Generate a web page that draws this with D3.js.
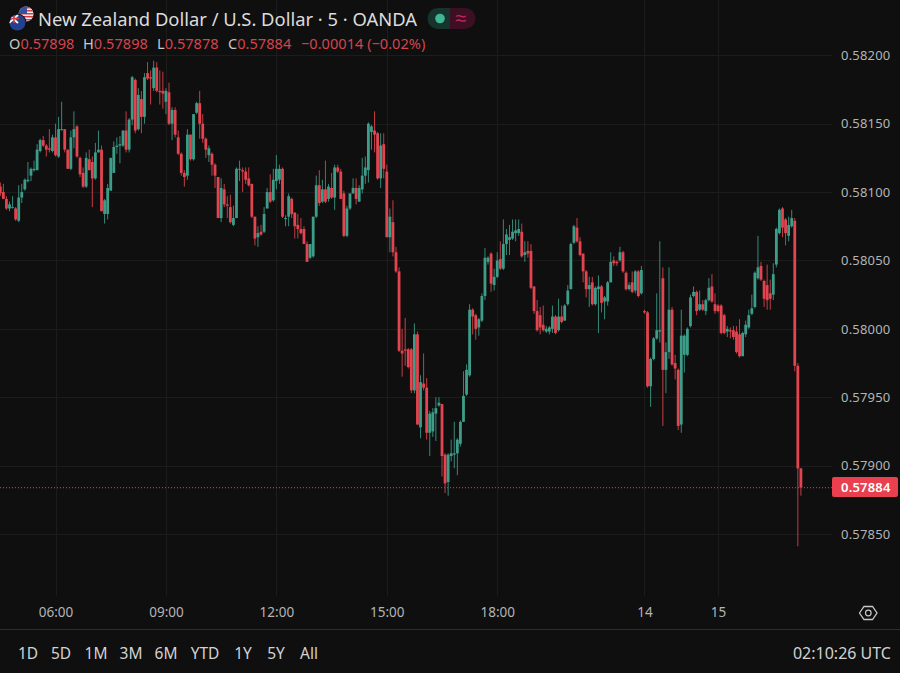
<!DOCTYPE html>
<html>
<head>
<meta charset="utf-8">
<script src="https://cdn.jsdelivr.net/npm/d3@7"></script>
<style>
html, body { margin: 0; padding: 0; background: #0f0f0f; }
svg { display: block; }
text { font-family: "Noto Sans", sans-serif; }
</style>
</head>
<body>
<script>
const width = 900
const height = 673

//NZD/USD 5 minute bars, in units of 0.00001
const opens = [
58104,58100,58095,58088,58089,58088,58079,58096,58102,58108,58112,58116,58116,58130,58138,58134,58132,58130,58140,58126,
58146,58146,58131,58117,58140,58148,58125,58114,58104,58124,58122,58110,58129,58131,58084,58084,58101,58114,58133,58134,
58134,58145,58131,58153,58182,58146,58168,58155,58187,58184,58176,58191,58174,58174,58166,58173,58150,58160,58140,58128,
58114,58112,58142,58124,58158,58165,58150,58139,58127,58128,58120,58111,58081,58102,58091,58089,58076,58081,58117,58116,
58115,58110,58106,58082,58067,58071,58071,58088,58100,58094,58108,58109,58117,58081,58082,58095,58085,58076,58073,58073,
58062,58052,58053,58082,58105,58093,58102,58095,58103,58096,58118,58115,58099,58068,58088,58099,58103,58093,58102,58112,
58116,58144,58145,58143,58110,58135,58115,58067,58078,58056,58042,57984,57985,57985,57985,57955,57996,57928,57960,57957,
57924,57925,57938,57944,57945,57908,57888,57907,57908,57909,57916,57932,57952,57966,58014,58010,58001,58006,58024,58049,
58055,58032,58038,58051,58044,58062,58065,58066,58070,58070,58071,58054,58057,58057,58031,58013,58010,58003,57998,57998,
58000,58009,57999,58009,58006,58018,58029,58063,58074,58064,58055,58042,58029,58034,58018,58029,58031,58020,58020,58034,
58050,58049,58050,58056,58041,58029,58034,58028,58042,58026,58013,58012,57958,57978,57993,57998,58037,57970,57983,58014,
57975,57970,57930,57981,57981,58002,58024,58027,58014,58018,58013,58021,58031,58018,58017,58017,58010,57998,57999,57999,
57998,57996,57980,57996,58001,58011,58016,58037,58046,58035,58032,58026,58025,58047,58070,58088,58080,58068,58075,58079,
57973,57898]
const highs = [
58107,58106,58097,58093,58097,58089,58105,58106,58110,58122,58118,58123,58135,58139,58141,58135,58146,58142,58150,58155,
58166,58146,58131,58145,58159,58149,58126,58118,58129,58131,58126,58136,58145,58134,58095,58106,58125,58137,58140,58141,
58145,58159,58154,58185,58183,58176,58174,58187,58195,58189,58196,58195,58189,58188,58176,58180,58162,58162,58145,58129,
58116,58146,58142,58157,58166,58174,58157,58140,58134,58129,58121,58111,58110,58106,58097,58098,58090,58118,58123,58118,
58118,58118,58106,58082,58075,58076,58089,58103,58113,58117,58127,58120,58118,58083,58099,58096,58085,58084,58081,58075,
58064,58062,58082,58112,58116,58109,58123,58106,58114,58120,58120,58117,58101,58090,58099,58110,58110,58105,58125,58126,
58151,58149,58159,58144,58143,58143,58120,58088,58094,58060,58045,58000,58008,57986,57986,58004,57998,57966,57982,57964,
57940,57942,57950,57950,57945,57909,57909,57919,57932,57920,57933,57969,57974,58018,58015,58011,58008,58026,58059,58053,
58056,58044,58056,58064,58080,58073,58076,58080,58080,58080,58077,58064,58064,58062,58031,58021,58016,58017,58002,58002,
58017,58010,58022,58017,58018,58032,58063,58076,58081,58067,58055,58043,58038,58038,58031,58039,58032,58024,58035,58056,
58053,58050,58060,58057,58042,58034,58042,58043,58043,58046,58014,58013,57979,57994,58026,58064,58045,57990,58045,58016,
57981,57971,58014,57996,58001,58025,58031,58028,58028,58021,58022,58037,58040,58026,58018,58018,58011,58002,58001,58002,
58002,58007,57998,58006,58014,58025,58042,58068,58049,58036,58047,58036,58048,58074,58088,58089,58081,58082,58087,58081,
57975,57898]
const lows = [
58097,58095,58087,58086,58088,58079,58078,58092,58101,58107,58108,58115,58116,58129,58133,58126,58129,58129,58126,58125,
58145,58129,58117,58116,58132,58125,58111,58103,58103,58116,58089,58109,58129,58086,58077,58080,58101,58114,58128,58121,
58133,58129,58129,58149,58143,58145,58143,58150,58182,58164,58174,58173,58164,58161,58157,58149,58138,58140,58127,58112,
58104,58109,58123,58123,58157,58139,58136,58125,58122,58112,58103,58081,58078,58089,58081,58077,58075,58081,58108,58100,
58106,58104,58081,58061,58060,58068,58070,58088,58092,58093,58102,58106,58081,58075,58075,58081,58066,58066,58069,58062,
58049,58051,58052,58081,58090,58092,58092,58093,58095,58087,58114,58095,58067,58067,58087,58099,58091,58093,58099,58106,
58107,58131,58129,58109,58103,58110,58067,58056,58053,58041,57983,57965,57973,57971,57953,57953,57930,57920,57955,57919,
57907,57921,57918,57943,57892,57880,57878,57903,57898,57893,57914,57932,57951,57965,57996,57992,57995,58005,58021,58047,
58027,58028,58037,58043,58043,58054,58054,58065,58064,58068,58052,58049,58052,58029,58011,57998,57996,57998,57997,57996,
57997,57996,57998,58004,58006,58017,58029,58062,58063,58053,58034,58023,58016,58017,58017,57997,58012,58007,58017,58034,
58046,58046,58049,58041,58028,58028,58026,58026,58023,58025,58011,57957,57943,57977,57992,57990,57929,57953,57978,57973,
57963,57926,57924,57968,57980,58001,58023,58010,58013,58013,58010,58020,58019,58011,58012,57996,57996,57994,57993,57992,
57982,57979,57980,57994,58000,58010,58015,58036,58035,58016,58014,58014,58021,58045,58069,58067,58061,58064,58074,57969,
57841,57878]
const closes = [
58099,58095,58088,58091,58089,58080,58096,58100,58109,58109,58117,58117,58131,58138,58134,58131,58131,58140,58127,58146,
58146,58131,58117,58140,58146,58126,58113,58104,58125,58116,58110,58129,58131,58086,58094,58103,58125,58133,58134,58135,
58145,58131,58153,58184,58145,58171,58155,58184,58183,58183,58191,58174,58173,58172,58174,58150,58160,58142,58128,58114,
58111,58142,58124,58157,58165,58150,58139,58131,58132,58120,58112,58081,58103,58091,58090,58078,58081,58117,58117,58115,
58109,58105,58082,58066,58070,58069,58084,58100,58093,58109,58117,58117,58082,58081,58097,58084,58075,58073,58070,58062,
58049,58062,58082,58105,58092,58102,58093,58104,58096,58118,58115,58095,58068,58088,58099,58103,58095,58103,58112,58118,
58150,58148,58142,58110,58134,58117,58067,58082,58056,58042,57984,57982,57984,57972,57955,57996,57930,57961,57957,57924,
57938,57939,57942,57946,57907,57887,57908,57909,57909,57919,57932,57951,57970,58014,58009,58000,58007,58024,58052,58052,
58033,58038,58050,58044,58062,58069,58067,58071,58072,58073,58053,58056,58055,58030,58013,57999,58001,57999,58000,58001,
58009,57997,58009,58005,58017,58028,58062,58075,58064,58054,58042,58029,58032,58018,58030,58031,58019,58023,58034,58049,
58048,58048,58056,58042,58029,58032,58027,58042,58024,58043,58012,57958,57978,57993,57999,57999,57970,57983,58014,57974,
57971,57929,57995,57995,58000,58023,58027,58013,58018,58014,58021,58030,58020,58013,58013,57997,57997,58000,57998,57994,
57983,57980,57997,58003,58010,58015,58041,58045,58036,58022,58021,58022,58040,58073,58087,58074,58070,58076,58081,57973,
57898,57884]

const priceTicks = [0.582, 0.5815, 0.581, 0.5805, 0.58, 0.5795, 0.579, 0.5785]
const timeTickBars = [18, 54, 90, 126, 162, 210, 234]
const timeTickLabels = ["06:00", "09:00", "12:00", "15:00", "18:00", "14", "15"]
const ranges = ["1D", "5D", "1M", "3M", "6M", "YTD", "1Y", "5Y", "All"]
const rangeX = [28, 61, 96, 131, 166, 205, 243, 276, 309]
const lastPrice = 0.57884

const bg = "#0f0f0f"
const green = "#3c9d89"
const red = "#e2444f"
const gridColor = "#1c1c1c"
const plotRight = 832
const plotBottom = 596

const x = d3.scaleLinear().domain([0, 261]).range([0.3, 800.9])
const y = d3.scaleLinear().domain([0.582, 0.5785]).range([55.3, 534])

const svg = d3.select("body").append("svg")
    .attr("width", width)
    .attr("height", height)
svg.append("rect").attr("width", width).attr("height", height).attr("fill", bg)

//The reference is a soft screenshot, candles get a very light blur
svg.append("defs").append("filter").attr("id", "soft")
    .append("feGaussianBlur").attr("stdDeviation", 0.35)

/////////////////////////////////////////////////////
// GRID
/////////////////////////////////////////////////////

svg.append("g").selectAll("line").data(priceTicks).join("line")
    .attr("x1", 0).attr("x2", plotRight)
    .attr("y1", d => Math.round(y(d)) + 0.5).attr("y2", d => Math.round(y(d)) + 0.5)
    .attr("stroke", gridColor)
svg.append("g").selectAll("line").data(timeTickBars).join("line")
    .attr("x1", d => Math.round(x(d)) + 0.5).attr("x2", d => Math.round(x(d)) + 0.5)
    .attr("y1", 0).attr("y2", plotBottom)
    .attr("stroke", gridColor)

/////////////////////////////////////////////////////
// CANDLES
/////////////////////////////////////////////////////

//Bars are in units of 0.00001
const px = v => y(v / 1e5)
const candles = svg.append("g").attr("filter", "url(#soft)")
    .selectAll("g").data(closes).join("g")
    .attr("fill", (d, i) => d >= opens[i] ? green : red)
    .attr("stroke", (d, i) => d >= opens[i] ? green : red)
candles.append("line")
    .attr("x1", (d, i) => x(i)).attr("x2", (d, i) => x(i))
    .attr("y1", (d, i) => px(highs[i])).attr("y2", (d, i) => px(lows[i]))
    .attr("stroke-width", 1)
    .attr("stroke-opacity", 0.85)
candles.append("rect")
    .attr("stroke", "none")
    .attr("x", (d, i) => x(i) - 1.4)
    .attr("width", 2.8)
    .attr("y", (d, i) => px(Math.max(opens[i], d)))
    .attr("height", (d, i) => Math.max(1, px(Math.min(opens[i], d)) - px(Math.max(opens[i], d))))

//Last price line
svg.append("line")
    .attr("x1", 0).attr("x2", plotRight)
    .attr("y1", y(lastPrice) + 0.2).attr("y2", y(lastPrice) + 0.2)
    .attr("stroke", red).attr("stroke-dasharray", "1 2")

/////////////////////////////////////////////////////
// AXES
/////////////////////////////////////////////////////

const axisRight = d3.axisRight(y).tickValues(priceTicks).tickSize(0).tickPadding(0).tickFormat(d3.format(".5f"))
svg.append("g").attr("transform", "translate(841,0)").call(axisRight)
    .call(g => g.select(".domain").remove())
    .selectAll("text")
    .attr("fill", "#b4b4b4").attr("font-size", 13).style("letter-spacing", "0.2px")

const axisBottom = d3.axisBottom(x).tickValues(timeTickBars).tickSize(0).tickPadding(0)
    .tickFormat((d, i) => timeTickLabels[i])
svg.append("g").attr("transform", "translate(0,607)").call(axisBottom)
    .call(g => g.select(".domain").remove())
    .selectAll("text")
    .attr("fill", "#b4b4b4").attr("font-size", 13.5)

//Last price tag
svg.append("rect")
    .attr("x", plotRight).attr("y", y(lastPrice) - 10.5)
    .attr("width", 66).attr("height", 20).attr("rx", 2)
    .attr("fill", "#ea3f4e")
svg.append("text")
    .attr("x", 841).attr("y", y(lastPrice) + 4.3)
    .attr("fill", "#ffffff").attr("font-size", 13).attr("font-weight", 600)
    .style("letter-spacing", "0.2px")
    .text(d3.format(".5f")(lastPrice))

/////////////////////////////////////////////////////
// HEADER
/////////////////////////////////////////////////////

const defs = svg.select("defs")
defs.append("clipPath").attr("id", "us-clip").append("circle").attr("cx", 26).attr("cy", 14).attr("r", 7.5)
defs.append("clipPath").attr("id", "nz-clip").append("circle").attr("cx", 17.5).attr("cy", 22.5).attr("r", 8)

const us = svg.append("g").attr("clip-path", "url(#us-clip)")
us.append("rect").attr("x", 18).attr("y", 6).attr("width", 16).attr("height", 16).attr("fill", "#eeeeee")
d3.range(5).forEach(k => {
    us.append("rect").attr("x", 18).attr("y", 7 + k * 3).attr("width", 16).attr("height", 1.5).attr("fill", "#cf3c48")
})
us.append("rect").attr("x", 18).attr("y", 6).attr("width", 9).attr("height", 8).attr("fill", "#3b4f9c")

svg.append("circle").attr("cx", 17.5).attr("cy", 22.5).attr("r", 9).attr("fill", bg)
const nz = svg.append("g").attr("clip-path", "url(#nz-clip)")
nz.append("rect").attr("x", 9).attr("y", 14).attr("width", 17).attr("height", 17).attr("fill", "#24418f")
nz.append("path").attr("d", "M9 15L18 23M18 15L9 23").attr("stroke", "#f2f2f2").attr("stroke-width", 2)
nz.append("path").attr("d", "M14 14V23M9 18.5H19").attr("stroke", "#d8404c").attr("stroke-width", 1.5)

svg.append("text")
    .attr("x", 38).attr("y", 25.5)
    .attr("fill", "#dcdcdc").attr("font-size", 18.4)
    .text("New Zealand Dollar / U.S. Dollar · 5 · OANDA")

//Market status pill
svg.append("path").attr("d", "M450 8H438a10.5 10.5 0 0 0 0 21H450Z").attr("fill", "#17332d")
svg.append("path").attr("d", "M450 8H465a10.5 10.5 0 0 1 0 21H450Z").attr("fill", "#3c0f23")
svg.append("circle").attr("cx", 440).attr("cy", 18.5).attr("r", 4.8).attr("fill", "#3fb793")
svg.append("text").attr("x", 461).attr("y", 24.5).attr("text-anchor", "middle")
    .attr("fill", "#c2255c").attr("font-size", 20).text("≈")

//OHLC readout
const readoutNames = ["O", "H", "L", "C"]
const readoutValues = ["0.57898", "0.57898", "0.57878", "0.57884"]
const readoutX = [9, 83, 157, 228]
const readout = svg.append("g").attr("font-size", 14.6)
readoutNames.forEach((name, k) => {
    const t = readout.append("text").attr("x", readoutX[k]).attr("y", 48.5)
    t.append("tspan").attr("fill", "#c8c8c8").text(name)
    t.append("tspan").attr("fill", "#d4444e").text(readoutValues[k])
})
readout.append("text").attr("x", 301).attr("y", 48.5).attr("fill", "#d4444e").text("−0.00014 (−0.02%)")

/////////////////////////////////////////////////////
// FOOTER
/////////////////////////////////////////////////////

svg.append("line").attr("x1", 0).attr("x2", width).attr("y1", 629.5).attr("y2", 629.5).attr("stroke", "#2e2e2e")

svg.append("g").selectAll("text").data(ranges).join("text")
    .attr("x", (d, i) => rangeX[i]).attr("y", 658.5)
    .attr("text-anchor", "middle")
    .attr("fill", "#d2d2d2").attr("font-size", 15.5)
    .text(d => d)

svg.append("text")
    .attr("x", 891).attr("y", 658.5).attr("text-anchor", "end")
    .attr("fill", "#d2d2d2").attr("font-size", 16)
    .text("02:10:26 UTC")

//Settings icon
svg.append("path")
    .attr("d", "M859.5 613L864 606.5H872.5L877 613L872.5 619.5H864Z")
    .attr("fill", "none").attr("stroke", "#c8c8c8").attr("stroke-width", 1.3)
svg.append("circle").attr("cx", 868.3).attr("cy", 613).attr("r", 2.8)
    .attr("fill", "none").attr("stroke", "#c8c8c8").attr("stroke-width", 1.2)
</script>
</body>
</html>
